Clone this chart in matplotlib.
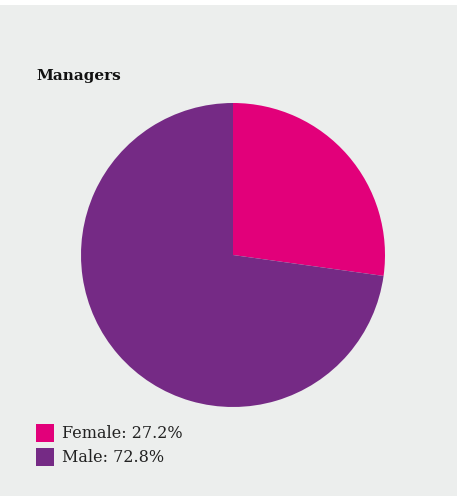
import matplotlib
matplotlib.use("Agg")
import matplotlib.pyplot as plt
from matplotlib.patches import Rectangle

labels = ["Female", "Male"]
shares = [27.2, 72.8]
colors = ["#e2007a", "#752a85"]
title = "Managers"

W, H = 457, 496
bg = "#eceeed"

fig = plt.figure(figsize=(W / 100, H / 100), dpi=100)
fig.patch.set_facecolor("white")
# grey panel below a thin white strip at the top
fig.add_artist(Rectangle((0, 0), 1, 1 - 5 / H, transform=fig.transFigure,
                         facecolor=bg, edgecolor="none", zorder=0))

# pie centred at (233, 255) px, radius 152 px
cx, cy, r = 233, 255, 152
ax = fig.add_axes([(cx - r) / W, 1 - (cy + r) / H, 2 * r / W, 2 * r / H])
ax.pie(shares, colors=colors, startangle=90, counterclock=False, radius=1,
       wedgeprops=dict(linewidth=0))
ax.set_xlim(-1, 1)
ax.set_ylim(-1, 1)
ax.set_aspect("equal")
ax.axis("off")

fig.text(36 / W, 1 - 76 / H, title, fontsize=11, fontweight="bold",
         family="DejaVu Serif", va="center", ha="left", color="#111111")

for i, (lab, val, col) in enumerate(zip(labels, shares, colors)):
    y = 433 + i * 24
    fig.add_artist(Rectangle((36 / W, 1 - (y + 9) / H), 18 / W, 18 / H,
                             transform=fig.transFigure, facecolor=col,
                             edgecolor="none"))
    fig.text(62 / W, 1 - y / H, f"{lab}: {val}%", fontsize=11.5,
             family="DejaVu Serif", va="center", ha="left", color="#222222")

fig.savefig("out.png", dpi=100, facecolor=fig.get_facecolor())
